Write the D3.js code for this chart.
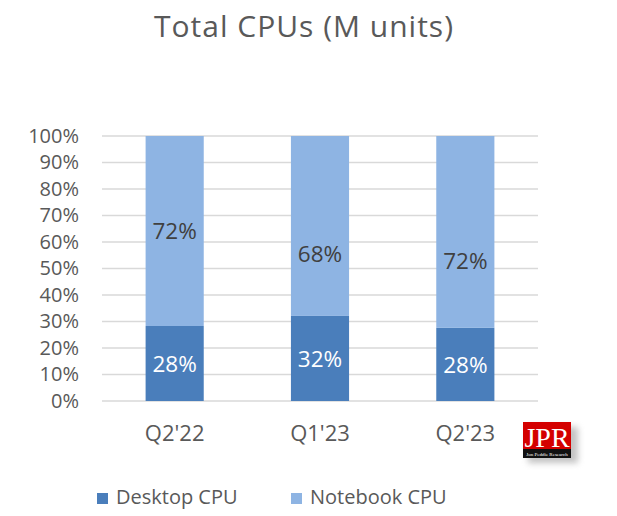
<!DOCTYPE html>
<html>
<head>
<meta charset="utf-8">
<script src="https://cdn.jsdelivr.net/npm/d3@7"></script>
<style>
  body { margin: 0; background: #fff; }
  svg text { font-family: "Open Sans", Lato, "Liberation Sans", sans-serif; }
</style>
</head>
<body>
<div id="chart"></div>
<script>
var quarters = ["Q2'22", "Q1'23", "Q2'23"];
var desktopShare = [28.3, 32.1, 27.6];
var notebookShare = [71.7, 67.9, 72.4];
var yTicks = [0, 10, 20, 30, 40, 50, 60, 70, 80, 90, 100];
var seriesNames = ["Desktop CPU", "Notebook CPU"];

// the notebook labels were dragged down a bit in the original (in % units)
var notebookLabelDrop = [0, 10.4, 11.1];

var W = 617, H = 516;
var margin = { top: 136, right: 79, bottom: 115, left: 102 };
var width = W - margin.left - margin.right,
    height = H - margin.top - margin.bottom;

var colors = ["#4a7ebb", "#8eb4e3"];

var svg = d3.select('#chart').append('svg')
  .attr('width', W).attr('height', H);

svg.append('text')
  .attr('x', 304).attr('y', 37)
  .attr('text-anchor', 'middle')
  .style('font-size', '30px').style('letter-spacing', '1px').style('fill', '#595959')
  .text('Total CPUs (M units)');

var g = svg.append('g').attr('transform', 'translate(' + margin.left + ',' + margin.top + ')');

var x = d3.scaleBand().domain(quarters).range([0, width]).paddingInner(0.6).paddingOuter(0.3);
var y = d3.scaleLinear().domain([0, 100]).range([height, 0]);

// gridlines
g.selectAll('line.grid').data(yTicks).enter().append('line')
  .attr('class', 'grid')
  .attr('x1', 0).attr('x2', width)
  .attr('y1', function (d) { return y(d); }).attr('y2', function (d) { return y(d); })
  .style('stroke', '#d9d9d9').style('stroke-width', 1.3);

var yAxis = d3.axisLeft(y).tickValues(yTicks).tickSize(0).tickPadding(23)
  .tickFormat(function (d) { return d + '%'; });
var yG = g.append('g').call(yAxis);
yG.select('.domain').remove();
yG.selectAll('text').style('font-size', '20px').style('fill', '#595959');

var xAxis = d3.axisBottom(x).tickSize(0).tickPadding(24);
var xG = g.append('g').attr('transform', 'translate(0,' + height + ')').call(xAxis);
xG.select('.domain').remove();
xG.selectAll('text').style('font-size', '22px').style('fill', '#595959');

var rows = quarters.map(function (q, i) {
  return { q: q, desktop: desktopShare[i], notebook: notebookShare[i] };
});
var stacked = d3.stack().keys(['desktop', 'notebook'])(rows);

stacked.forEach(function (layer, li) {
  var lg = g.append('g');
  lg.selectAll('rect').data(layer).enter().append('rect')
    .attr('x', function (d) { return x(d.data.q); })
    .attr('width', x.bandwidth())
    .attr('y', function (d) { return y(d[1]); })
    .attr('height', function (d) { return y(d[0]) - y(d[1]); })
    .style('fill', colors[li]);
  lg.selectAll('text').data(layer).enter().append('text')
    .attr('x', function (d) { return x(d.data.q) + x.bandwidth() / 2; })
    .attr('y', function (d, i) {
      var drop = li === 1 ? notebookLabelDrop[i] : 0;
      return y((d[0] + d[1]) / 2 - drop);
    })
    .attr('dy', '0.36em')
    .attr('text-anchor', 'middle')
    .style('font-size', '22.5px')
    .style('fill', li === 0 ? '#ffffff' : '#404040')
    .text(function (d) { return Math.round(d[1] - d[0]) + '%'; });
});

// legend
var legendX = [97, 291];
seriesNames.forEach(function (name, i) {
  var lg = svg.append('g').attr('transform', 'translate(' + legendX[i] + ',493)');
  lg.append('rect').attr('width', 11).attr('height', 11).style('fill', colors[i]);
  lg.append('text').attr('x', 19).attr('y', 11)
    .style('font-size', '20px').style('fill', '#595959').text(name);
});

// JPR logo
var logo = svg.append('g').attr('transform', 'translate(523,422)');
logo.append('rect').attr('x', 5).attr('y', 5).attr('width', 50).attr('height', 36)
  .style('fill', '#888').style('opacity', 0.5).style('filter', 'blur(3px)');
logo.append('rect').attr('width', 48).attr('height', 27).style('fill', '#d40000');
logo.append('rect').attr('y', 27).attr('width', 48).attr('height', 9).style('fill', '#111');
logo.append('text').attr('x', 24).attr('y', 25).attr('text-anchor', 'middle')
  .style('font-family', '"Liberation Serif", "DejaVu Serif", serif')
  .style('font-size', '28px').style('fill', '#fff').text('JPR');
logo.append('text').attr('x', 24).attr('y', 34).attr('text-anchor', 'middle')
  .style('font-family', '"Liberation Serif", serif')
  .style('font-size', '5px').style('fill', '#fff').text('Jon Peddie Research');
</script>
</body>
</html>
